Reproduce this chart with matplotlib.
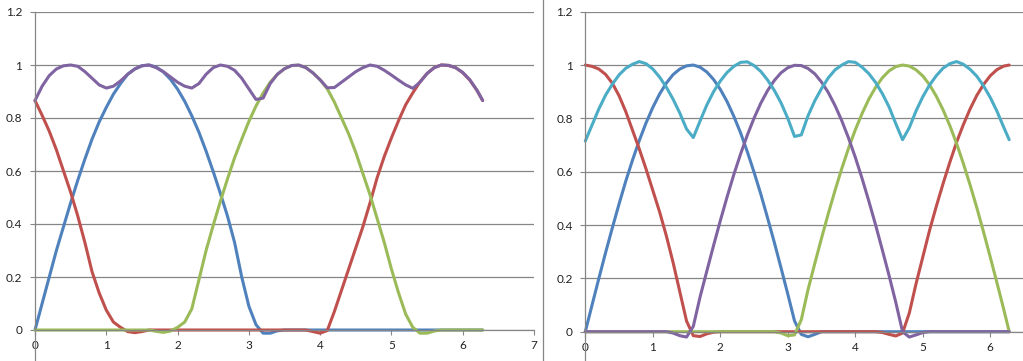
import matplotlib
matplotlib.use("Agg")
import matplotlib.pyplot as plt
from matplotlib.lines import Line2D

plt.rcParams["font.family"] = ["Lato", "DejaVu Sans"]

# ===============================
# DATA
# ===============================
x = [0.0, 0.1, 0.2, 0.3, 0.4, 0.5, 0.6, 0.7, 0.8, 0.9,
     1.0, 1.1, 1.2, 1.3, 1.4, 1.5, 1.6, 1.7, 1.8, 1.9,
     2.0, 2.1, 2.2, 2.3, 2.4, 2.5, 2.6, 2.7, 2.8, 2.9,
     3.0, 3.1, 3.2, 3.3, 3.4, 3.5, 3.6, 3.7, 3.8, 3.9,
     4.0, 4.1, 4.2, 4.3, 4.4, 4.5, 4.6, 4.7, 4.8, 4.9,
     5.0, 5.1, 5.2, 5.3, 5.4, 5.5, 5.6, 5.7, 5.8, 5.9,
     6.0, 6.1, 6.2, 6.28]

# left chart
left_blue = [0.0, 0.10, 0.20, 0.30, 0.39, 0.48, 0.565, 0.645, 0.72, 0.785,
             0.84, 0.89, 0.93, 0.965, 0.985, 0.997, 1.0, 0.992, 0.974, 0.946,
             0.909, 0.863, 0.808, 0.746, 0.675, 0.598, 0.516, 0.43, 0.33, 0.20,
             0.09, 0.02, -0.012, -0.012, -0.003, 0, 0, 0, 0, 0,
             0, 0, 0, 0, 0, 0, 0, 0, 0, 0,
             0, 0, 0, 0, 0, 0, 0, 0, 0, 0,
             0, 0, 0, 0]
left_red = [0.866, 0.81, 0.75, 0.68, 0.60, 0.52, 0.43, 0.33, 0.22, 0.14,
            0.075, 0.03, 0.01, -0.006, -0.01, -0.006, 0, 0, 0, 0,
            0, 0, 0, 0, 0, 0, 0, 0, 0, 0,
            0, 0, 0, 0, 0, 0, 0, 0, 0, -0.006,
            -0.012, -0.002, 0.07, 0.15, 0.23, 0.31, 0.39, 0.48, 0.575, 0.655,
            0.725, 0.79, 0.85, 0.895, 0.936, 0.968, 0.99, 1.0, 0.998, 0.99,
            0.971, 0.943, 0.904, 0.866]
left_green = [0, 0, 0, 0, 0, 0, 0, 0, 0, 0,
              0, 0, 0, 0, 0, 0, 0, -0.005, -0.009, -0.004,
              0.01, 0.03, 0.08, 0.19, 0.30, 0.395, 0.485, 0.57, 0.65, 0.72,
              0.787, 0.845, 0.894, 0.935, 0.965, 0.986, 0.998, 0.999, 0.99, 0.97,
              0.944, 0.91, 0.86, 0.80, 0.74, 0.67, 0.59, 0.51, 0.42, 0.33,
              0.23, 0.14, 0.06, 0.01, -0.012, -0.012, -0.004, 0, 0, 0,
              0, 0, 0, 0]
left_purple = [0.866, 0.92, 0.96, 0.985, 0.997, 1.0, 0.995, 0.975, 0.95, 0.925,
               0.913, 0.92, 0.94, 0.965, 0.985, 0.997, 1.0, 0.99, 0.975, 0.955,
               0.935, 0.92, 0.913, 0.93, 0.965, 0.99, 1.0, 0.995, 0.98, 0.95,
               0.91, 0.87, 0.875, 0.93, 0.965, 0.986, 0.998, 1.0, 0.99, 0.97,
               0.944, 0.914, 0.915, 0.935, 0.955, 0.975, 0.99, 1.0, 0.995, 0.98,
               0.962, 0.943, 0.925, 0.912, 0.935, 0.968, 0.99, 1.0, 0.999, 0.99,
               0.972, 0.944, 0.905, 0.866]

# right chart
right_blue = [0.0, 0.10, 0.199, 0.296, 0.389, 0.479, 0.565, 0.644, 0.717, 0.783,
              0.841, 0.891, 0.932, 0.964, 0.985, 0.997, 1.0, 0.992, 0.974, 0.946,
              0.909, 0.863, 0.808, 0.746, 0.675, 0.598, 0.516, 0.427, 0.335, 0.239,
              0.141, 0.04, -0.01, -0.019, -0.01, 0, 0, 0, 0, 0,
              0, 0, 0, 0, 0, 0, 0, 0, 0, 0,
              0, 0, 0, 0, 0, 0, 0, 0, 0, 0,
              0, 0, 0, 0]
right_red = [1.0, 0.995, 0.985, 0.965, 0.932, 0.885, 0.825, 0.755, 0.685, 0.61,
             0.53, 0.45, 0.36, 0.26, 0.15, 0.04, -0.015, -0.018, -0.008, -0.002,
             0, 0, 0, 0, 0, 0, 0, 0, 0, 0,
             0, 0, 0, 0, 0, 0, 0, 0, 0, 0,
             0, 0, 0, 0, -0.003, -0.01, -0.016, -0.005, 0.07, 0.18,
             0.28, 0.38, 0.47, 0.555, 0.635, 0.71, 0.776, 0.835, 0.886, 0.927,
             0.96, 0.983, 0.996, 1.0]
right_green = [0, 0, 0, 0, 0, 0, 0, 0, 0, 0,
               0, 0, 0, 0, 0, 0, 0, 0, 0, 0,
               0, 0, 0, 0, 0, 0, 0, 0, 0, -0.005,
               -0.015, -0.012, 0.045, 0.158, 0.256, 0.351, 0.443, 0.53, 0.612, 0.688,
               0.757, 0.818, 0.872, 0.916, 0.952, 0.978, 0.994, 1.0, 0.996, 0.982,
               0.959, 0.926, 0.883, 0.832, 0.773, 0.706, 0.631, 0.551, 0.465, 0.374,
               0.279, 0.182, 0.083, 0.0]
right_purple = [0, 0, 0, 0, 0, 0, 0, 0, 0, 0,
                0, 0, 0, -0.005, -0.015, -0.02, 0.02, 0.13, 0.227, 0.323,
                0.416, 0.505, 0.589, 0.666, 0.737, 0.801, 0.857, 0.904, 0.942, 0.971,
                0.99, 0.999, 0.998, 0.987, 0.967, 0.936, 0.897, 0.848, 0.791, 0.726,
                0.654, 0.575, 0.49, 0.401, 0.307, 0.211, 0.11, 0.0, -0.02, -0.012,
                -0.003, 0, 0, 0, 0, 0, 0, 0, 0, 0,
                0, 0, 0, 0]
right_cyan = [0.715, 0.775, 0.835, 0.887, 0.928, 0.963, 0.988, 1.003, 1.013, 1.005,
              0.985, 0.955, 0.917, 0.872, 0.82, 0.76, 0.728, 0.79, 0.85, 0.9,
              0.94, 0.972, 0.995, 1.01, 1.012, 0.998, 0.976, 0.944, 0.905, 0.858,
              0.8, 0.732, 0.738, 0.81, 0.866, 0.912, 0.952, 0.982, 1.0, 1.013,
              1.01, 0.992, 0.968, 0.935, 0.893, 0.843, 0.78, 0.72, 0.765, 0.828,
              0.881, 0.925, 0.96, 0.988, 1.005, 1.013, 1.003, 0.984, 0.958, 0.922,
              0.878, 0.826, 0.766, 0.72]

left_xticks = [0, 1, 2, 3, 4, 5, 6, 7]
right_xticks = [0, 1, 2, 3, 4, 5, 6]
yticks = [0, 0.2, 0.4, 0.6, 0.8, 1, 1.2]
ytick_labels = ["0", "0.2", "0.4", "0.6", "0.8", "1", "1.2"]

# excel 2007 palette
BLUE = "#4F81BD"
RED = "#C0504D"
GREEN = "#9BBB59"
PURPLE = "#8064A2"
CYAN = "#4BACC6"
GRID = "#868686"

W, H = 1023, 361
fig = plt.figure(figsize=(W / 100, H / 100), dpi=100)


def style_axes(ax, xmax, xticks):
    ax.set_xlim(0, xmax)
    ax.set_ylim(0, 1.2)
    ax.set_yticks(yticks)
    ax.set_yticklabels(ytick_labels)
    ax.set_xticks(xticks)
    ax.set_xticklabels([str(t) for t in xticks])
    ax.grid(axis="y", color=GRID, linewidth=0.9)
    ax.set_axisbelow(True)
    for side in ["top", "right"]:
        ax.spines[side].set_visible(False)
    for side in ["left", "bottom"]:
        ax.spines[side].set_color(GRID)
        ax.spines[side].set_linewidth(0.9)
    ax.tick_params(axis="both", colors=GRID, length=3.6, width=0.8,
                   labelcolor="#222222", labelsize=8.5)
    ax.tick_params(axis="y", pad=5.5)
    ax.tick_params(axis="x", pad=3.5)
    # y axis runs on below the x axis, as in the source
    ax.plot([0, 0], [0, -0.13], color=GRID, linewidth=0.9,
            clip_on=False, zorder=1)


# ===============================
# LEFT CHART
# ===============================
ax1 = fig.add_axes([35 / W, (H - 330) / H, 499 / W, 318 / H])
style_axes(ax1, 7, left_xticks)
lw = 2.2
ax1.plot(x, left_blue, color=BLUE, lw=lw, solid_capstyle="round", clip_on=False)
ax1.plot(x, left_red, color=RED, lw=lw, solid_capstyle="round", clip_on=False)
ax1.plot(x, left_green, color=GREEN, lw=lw, solid_capstyle="round", clip_on=False)
ax1.plot(x, left_purple, color=PURPLE, lw=lw, solid_capstyle="round", clip_on=False)

# ===============================
# RIGHT CHART
# ===============================
ax2 = fig.add_axes([585.3 / W, (H - 331.7) / H, (W - 585.3) / W, 320 / H])
style_axes(ax2, (W - 585.3) / 67.5, right_xticks)
ax2.plot(x, right_blue, color=BLUE, lw=lw, solid_capstyle="round", clip_on=False)
ax2.plot(x, right_red, color=RED, lw=lw, solid_capstyle="round", clip_on=False)
ax2.plot(x, right_green, color=GREEN, lw=lw, solid_capstyle="round", clip_on=False)
ax2.plot(x, right_purple, color=PURPLE, lw=lw, solid_capstyle="round", clip_on=False)
ax2.plot(x, right_cyan, color=CYAN, lw=lw, solid_capstyle="round", clip_on=False)

# border between the two charts
fig.add_artist(Line2D([543.3 / W, 543.3 / W], [0, 1], color=GRID,
                      linewidth=0.9, transform=fig.transFigure))

fig.savefig("out.png", dpi=100)
